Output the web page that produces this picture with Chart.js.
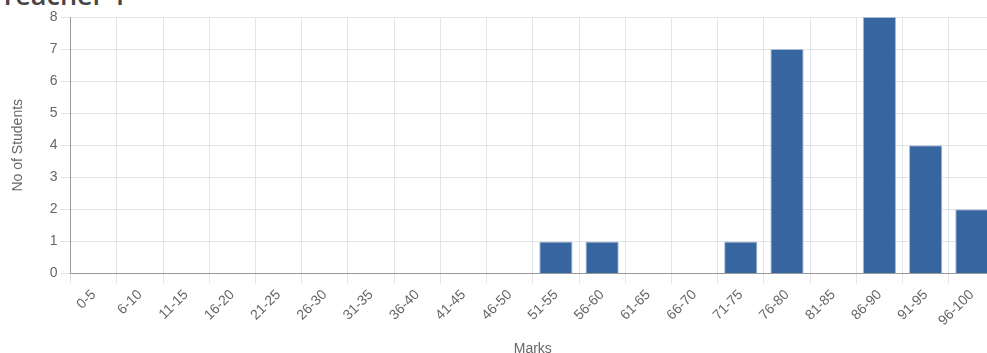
<!DOCTYPE html>
<html>
<head>
<meta charset="utf-8">
<script src="https://cdn.jsdelivr.net/npm/chart.js@4.4.0/dist/chart.umd.min.js"></script>
<style>
    body { margin: 0; background: #fff; overflow: hidden; }
    h3 {
        position: absolute; left: 0; top: -24px; margin: 0;
        font-family: "Open Sans", sans-serif; font-weight: 600; font-size: 27px; color: #444;
    }
    .chart-box { position: absolute; left: 0; top: 0; width: 995px; height: 362px; }
</style>
</head>
<body>
<h3>Teacher 1</h3>
<div class="chart-box"><canvas id="marksChart"></canvas></div>
<script>
// Marks ranges and number of students in each
const markRanges = ['0-5', '6-10', '11-15', '16-20', '21-25', '26-30', '31-35', '36-40', '41-45', '46-50',
    '51-55', '56-60', '61-65', '66-70', '71-75', '76-80', '81-85', '86-90', '91-95', '96-100'];
const studentCounts = [0, 0, 0, 0, 0, 0, 0, 0, 0, 0, 1, 1, 0, 0, 1, 7, 0, 8, 4, 2];

document.addEventListener('DOMContentLoaded', function() {
    const ctx = document.getElementById('marksChart').getContext('2d');
    Chart.defaults.font.family = '"Liberation Sans", Arial, sans-serif';
    Chart.defaults.color = '#666';

    new Chart(ctx, {
        type: 'bar',
        data: {
            labels: markRanges,
            datasets: [{
                label: 'No of Students',
                data: studentCounts,
                backgroundColor: '#3765a0',
                borderColor: '#a9bcd8',
                borderWidth: 1
            }]
        },
        options: {
            responsive: true,
            maintainAspectRatio: false,
            animation: false,
            layout: { padding: { top: 17, left: 4, right: 0, bottom: 0 } },
            plugins: {
                legend: { display: false },
                tooltip: { enabled: false }
            },
            scales: {
                x: {
                    ticks: { font: { size: 14 }, maxRotation: 45, minRotation: 45 },
                    grid: { color: '#e5e5e5', tickLength: 10 },
                    border: { color: '#999' },
                    title: { display: true, text: 'Marks', font: { size: 14 }, padding: { top: 9, bottom: 4 } }
                },
                y: {
                    beginAtZero: true,
                    max: 8,
                    ticks: { stepSize: 1, font: { size: 14 }, padding: 3 },
                    grid: { color: '#e5e5e5', tickLength: 10 },
                    border: { color: '#999' },
                    title: { display: true, text: 'No of Students', font: { size: 14 }, padding: { top: 6, bottom: 20 } }
                }
            }
        }
    });
});
</script>
</body>
</html>
